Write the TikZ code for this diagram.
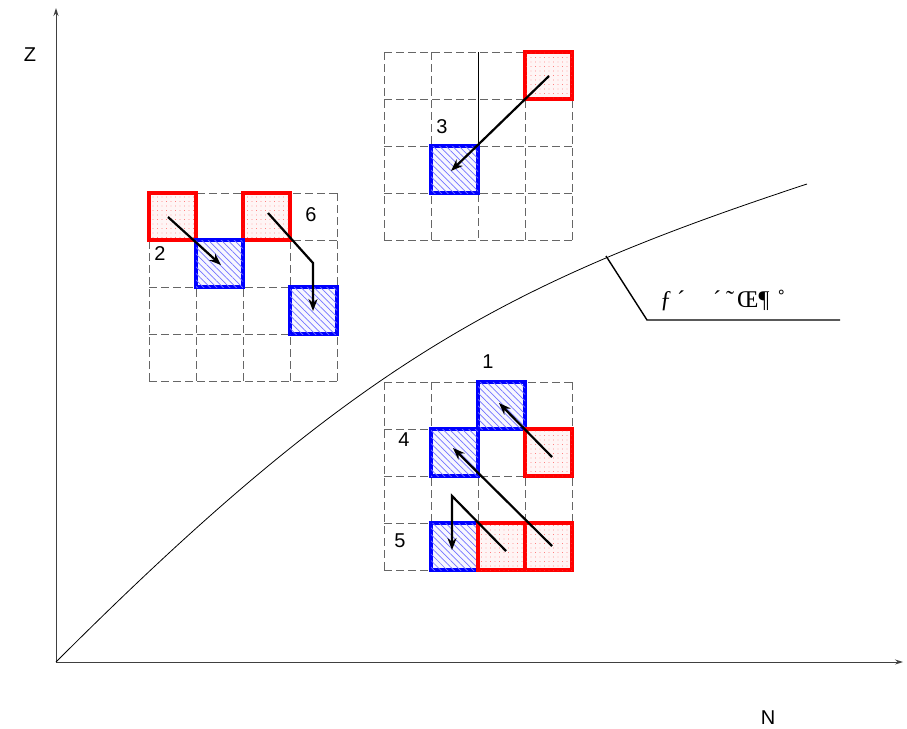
\documentclass[tikz,border=0pt]{standalone}
\usepackage{fontspec}
\setmainfont{Liberation Sans}
\newfontfamily\serifgarb{Liberation Serif}
\usetikzlibrary{patterns.meta,arrows.meta}
\begin{document}
\begin{tikzpicture}[x=1pt,y=-1pt,
  gridline/.style={draw=black!60,dash pattern=on 8pt off 4pt,line width=1pt},
  sq/.style={minimum size=47pt,inner sep=0pt,line width=3.3pt},
  redsq/.style={sq,draw=red,fill=red!4,postaction={pattern={Dots[radius=0.45pt,distance=4.5pt]},pattern color=red!75}},
  bluesq/.style={sq,draw=blue,fill=blue!3,postaction={pattern={Lines[angle=-45,distance=4.6pt,line width=0.7pt]},pattern color=blue!55}},
  mv/.style={line width=2.2pt,-{Stealth[length=12pt,width=9pt]}},
  lbl/.style={font=\fontsize{20}{24}\selectfont,inner sep=0pt},
  axis/.style={draw=black!75,line width=0.9pt,-{Stealth[length=8pt,width=5pt]}}]
\useasboundingbox (0,0) rectangle (907,728);
% axes
\coordinate (O) at (56,662);
\coordinate (ytop) at (56,8);
\coordinate (xend) at (903,662);
\draw[axis] (O) -- (ytop);
\draw[axis] (O) -- (xend);
\node[lbl] (zl) at (30,55) {Z};
\node[lbl] (nl) at (768,718) {N};
% curve
\coordinate (cend) at (807,184);
\draw[line width=0.8pt] (O) .. controls (356,362) and (507,283) .. (cend);
\coordinate (c1) at (606,256);
\coordinate (c2) at (647,320);
\coordinate (c3) at (840,320);
\draw[line width=1.4pt] (c1) -- (c2) -- (c3);
\node[inner sep=0pt,anchor=base west,font=\serifgarb\fontsize{24}{28}\selectfont] (garb) at (660,307) {ƒ\hspace{5pt}´\hspace{28pt}´\hspace{5pt}˜\hspace{3pt}Œ¶\hspace{8pt}˚};
% grid A (left)
\foreach \x in {149,196,243,290,337} \draw[gridline] (\x,193) -- (\x,381);
\foreach \y in {193,240,287,334,381} \draw[gridline] (149,\y) -- (337,\y);
\node[redsq] (a1) at (172.5,216.5) {};
\node[redsq] (a2) at (266.5,216.5) {};
\node[bluesq] (a3) at (219.5,263.5) {};
\node[bluesq] (a4) at (313.5,310.5) {};
\node[lbl] (l2) at (160,254) {2};
\node[lbl] (l6) at (311,215) {6};
\coordinate (a1s) at (168,217);
\coordinate (a3e) at (221,265);
\draw[mv] (a1s) -- (a3e);
\coordinate (a2s) at (268,213);
\coordinate (a2k) at (313,263);
\coordinate (a4e) at (313,311);
\draw[mv] (a2s) -- (a2k) -- (a4e);
% grid B (top)
\foreach \x in {384,431,525,572} \draw[gridline] (\x,52) -- (\x,240);
\draw[gridline] (478,146) -- (478,240);
\draw[line width=1pt] (478,52) -- (478,146);
\foreach \y in {52,99,146,193,240} \draw[gridline] (384,\y) -- (572,\y);
\node[redsq] (b1) at (548.5,75.5) {};
\node[bluesq] (b2) at (454.5,169.5) {};
\node[lbl] (l3) at (442,127) {3};
\coordinate (b1s) at (549,76);
\coordinate (b2e) at (451,171);
\draw[mv] (b1s) -- (b2e);
% grid C (bottom)
\foreach \x in {384,431,478,525,572} \draw[gridline] (\x,382) -- (\x,570);
\foreach \y in {382,429,476,523,570} \draw[gridline] (384,\y) -- (572,\y);
\node[bluesq] (c_1) at (501.5,405.5) {};
\node[bluesq] (c_4) at (454.5,452.5) {};
\node[bluesq] (c_5) at (454.5,546.5) {};
\node[redsq] (r1) at (548.5,452.5) {};
\node[redsq] (r2) at (501.5,546.5) {};
\node[redsq] (r3) at (548.5,546.5) {};
\node[lbl] (l1) at (488,362) {1};
\node[lbl] (l4) at (404,440) {4};
\node[lbl] (l5) at (400,541) {5};
\coordinate (r1s) at (552,457);
\coordinate (c1e) at (499,403);
\draw[mv] (r1s) -- (c1e);
\coordinate (r3s) at (552,546);
\coordinate (c4e) at (453,448);
\draw[mv] (r3s) -- (c4e);
\coordinate (r2s) at (506,551);
\coordinate (r2k) at (452,496);
\coordinate (c5e) at (452,550);
\draw[mv] (r2s) -- (r2k) -- (c5e);
\end{tikzpicture}
\end{document}
